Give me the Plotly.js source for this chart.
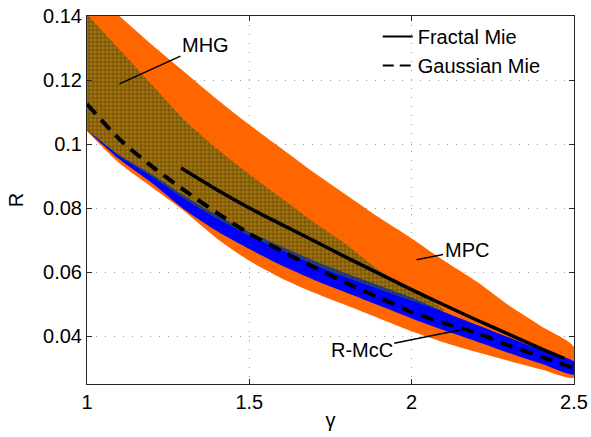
<!DOCTYPE html>
<html>
<head>
<meta charset="utf-8">
<script src="https://cdn.plot.ly/plotly-3.0.1.min.js"></script>
<style>html,body{margin:0;padding:0;background:#fff;}#chart{width:591px;height:437px;}</style>
</head>
<body>
<div id="chart"></div>
<script>
// ---- data ----
const gamma = [1.0,1.1,1.2,1.3,1.4,1.5,1.6,1.7,1.8,1.9,2.0,2.1,2.2,2.3,2.4,2.5];
const mpcUpper = [0.149,0.140,0.131,0.1225,0.114,0.106,0.0985,0.091,0.084,0.077,0.0705,0.0635,0.057,0.0495,0.043,0.0366];
const mpcLower = [0.104,0.094,0.0865,0.079,0.0705,0.0635,0.058,0.0535,0.0495,0.0455,0.0415,0.038,0.035,0.0322,0.0295,0.027];
const rmccUpper = [0.1044,0.0965,0.0905,0.0838,0.0778,0.0725,0.068,0.0635,0.0595,0.0558,0.052,0.0475,0.0435,0.0395,0.0355,0.032];
const rmccLower = [0.1044,0.0952,0.0878,0.0795,0.0728,0.0672,0.062,0.0575,0.0535,0.0495,0.0455,0.0418,0.0383,0.0347,0.0313,0.028];
const mhgGamma = [1.0,1.1,1.2,1.3,1.4,1.5,1.6,1.7,1.8,1.9,2.0,2.1];
const mhgUpper = [0.1405,0.1295,0.1185,0.1075,0.0985,0.0905,0.083,0.0755,0.0685,0.0605,0.0545,0.0482];
const mhgLower = [0.1044,0.0962,0.0898,0.0828,0.0767,0.0713,0.0668,0.0622,0.0582,0.0546,0.051,0.0478];
const fractalGamma = [1.29,1.4,1.5,1.6,1.7,1.8,1.9,2.0,2.1,2.2,2.3,2.4,2.47];
const fractalR = [0.0925,0.0857,0.080,0.0748,0.0697,0.0645,0.0595,0.0545,0.0497,0.045,0.0405,0.036,0.033];
const gaussianR = [0.1125,0.1015,0.093,0.0855,0.0785,0.072,0.0665,0.0615,0.0565,0.052,0.0475,0.044,0.041,0.037,0.0335,0.030];
const xTicks = [1,1.5,2,2.5];
const xTickText = ['1','1.5','2','2.5'];
const yTicks = [0.04,0.06,0.08,0.1,0.12,0.14];
const yTickText = ['0.04','0.06','0.08','0.1','0.12','0.14'];

function band(xs, up, lo){
  return {x: xs.concat(xs.slice().reverse()), y: up.concat(lo.slice().reverse())};
}
const FONT = 'Liberation Sans, Arial, Helvetica, sans-serif';
const FS = 20;

const mpc = band(gamma, mpcUpper, mpcLower);
const rmcc = band(gamma, rmccUpper, rmccLower);
const mhg = band(mhgGamma, mhgUpper, mhgLower);

const traces = [
  {x: mpc.x, y: mpc.y, type:'scatter', mode:'lines', fill:'toself', fillcolor:'#ff6600',
   line:{width:0, color:'#ff6600', shape:'spline', smoothing:0.7}, showlegend:false, hoverinfo:'skip'},
  {x: rmcc.x, y: rmcc.y, type:'scatter', mode:'lines', fill:'toself', fillcolor:'#0000ff',
   line:{width:0, color:'#0000ff', shape:'spline', smoothing:0.7}, showlegend:false, hoverinfo:'skip'},
  {x: mhg.x, y: mhg.y, type:'scatter', mode:'lines', fill:'toself',
   fillcolor:'rgba(65,128,30,0.5)',
   fillpattern:{shape:'+', bgcolor:'rgba(65,128,30,0.5)', fgcolor:'rgba(60,35,0,0.75)', size:4, solidity:0.25},
   line:{width:0, color:'rgba(0,0,0,0)', shape:'spline', smoothing:0.7}, showlegend:false, hoverinfo:'skip'},
  {x: fractalGamma, y: fractalR, type:'scatter', mode:'lines',
   line:{color:'#000', width:3.5, shape:'spline', smoothing:0.8}, showlegend:false},
  {x: gamma, y: gaussianR, type:'scatter', mode:'lines',
   line:{color:'#000', width:4, dash:'13px,8px', shape:'spline', smoothing:0.8}, showlegend:false},
  {x:[null], y:[null], type:'scatter', mode:'lines', name:'Fractal Mie', line:{color:'#000', width:2}},
  {x:[null], y:[null], type:'scatter', mode:'lines', name:'Gaussian Mie', line:{color:'#000', width:2, dash:'11px,6px'}}
];

const axisCommon = {
  showline:true, linecolor:'#262626', linewidth:1, mirror:'allticks',
  ticks:'inside', ticklen:5, tickcolor:'#262626',
  showgrid:true, gridcolor:'#999999', griddash:'1px,8px', gridwidth:1,
  zeroline:false, tickfont:{family:FONT, size:FS, color:'#000'}
};

const layout = {
  width:591, height:437,
  margin:{l:87, r:17, t:16, b:53},
  paper_bgcolor:'#fff', plot_bgcolor:'#fff',
  font:{family:FONT, size:FS, color:'#000'},
  xaxis: Object.assign({}, axisCommon, {
    range:[1,2.5], tickmode:'array', tickvals:xTicks, ticktext:xTickText,
    title:{text:'γ', font:{family:FONT, size:FS}, standoff:0}
  }),
  yaxis: Object.assign({}, axisCommon, {
    range:[0.025,0.14], tickmode:'array', tickvals:yTicks, ticktext:yTickText,
    title:{text:'R', font:{family:FONT, size:FS}, standoff:14}
  }),
  legend:{x:0.597, y:0.997, xanchor:'left', yanchor:'top', bgcolor:'rgba(0,0,0,0)',
    font:{family:FONT, size:FS}, tracegroupgap:0},
  annotations:[
    {x:1.10, y:0.1188, xref:'x', yref:'y', text:'MHG', showarrow:true, arrowhead:0,
     arrowwidth:1.5, arrowcolor:'#000', ax:86, ay:-39, standoff:0, font:{family:FONT, size:FS}},
    {x:2.015, y:0.0638, xref:'x', yref:'y', text:'MPC', showarrow:true, arrowhead:0,
     arrowwidth:1.5, arrowcolor:'#000', ax:50, ay:-10, standoff:0, font:{family:FONT, size:FS}},
    {x:2.148, y:0.0419, xref:'x', yref:'y', text:'R-McC', showarrow:true, arrowhead:0,
     arrowwidth:1.5, arrowcolor:'#000', ax:-98, ay:20, standoff:0, font:{family:FONT, size:FS}}
  ]
};

Plotly.newPlot('chart', traces, layout, {displayModeBar:false, staticPlot:true});
</script>
</body>
</html>
